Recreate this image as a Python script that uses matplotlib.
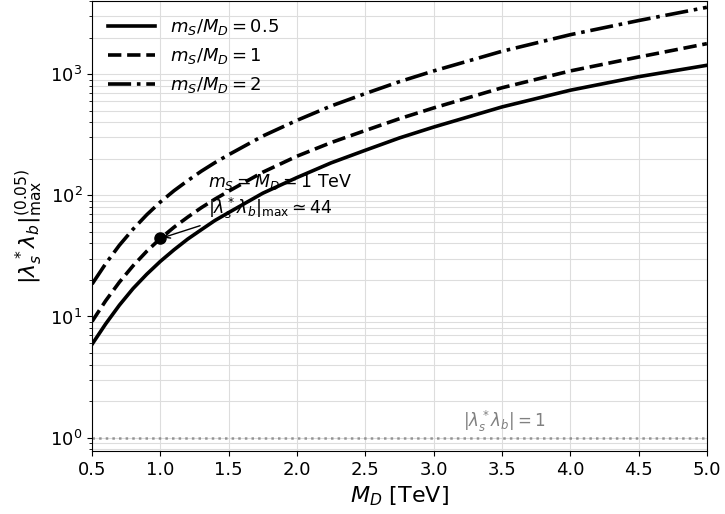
import numpy as np
import matplotlib
matplotlib.use("Agg")
import matplotlib.pyplot as plt

# values (M_D in TeV)
MD = [0.5, 0.6, 0.7, 0.8, 0.9, 1.0, 1.1, 1.2, 1.3, 1.4, 1.5, 1.75,
      2.0, 2.25, 2.5, 2.75, 3.0, 3.5, 4.0, 4.5, 5.0]
lam_05 = [5.9, 8.7, 12.4, 17.0, 22.3, 28.5, 35.5, 43.5, 52, 62, 72, 104,
          140, 185, 235, 297, 365, 535, 735, 950, 1180]
lam_1 = [9.1, 13.5, 19.2, 26.2, 34.5, 44.0, 54.5, 66, 79, 93, 108, 155,
         210, 272, 342, 428, 525, 770, 1060, 1380, 1780]
lam_2 = [18.5, 27.3, 38.7, 52.5, 69, 88, 109, 132, 158, 186, 216, 308,
         415, 545, 690, 865, 1060, 1540, 2110, 2760, 3550]
ratios = ["0.5", "1", "2"]

point_MD = 1.0
point_lam = 44

fig = plt.figure(figsize=(7.25, 5.14), dpi=100)
ax = fig.add_axes([0.127, 0.123, 0.848, 0.875])

ax.plot(MD, lam_05, color="k", lw=2.6, ls="-", label=r"$m_S/M_D = %s$" % ratios[0])
ax.plot(MD, lam_1, color="k", lw=2.6, ls="--", label=r"$m_S/M_D = %s$" % ratios[1])
ax.plot(MD, lam_2, color="k", lw=2.6, ls="-.", label=r"$m_S/M_D = %s$" % ratios[2])

ax.axhline(1.0, color="gray", ls=":", lw=1.8, alpha=0.8)
ax.text(3.52, 1.07, r"$|\lambda_s^*\lambda_b| = 1$", color="gray",
        ha="center", va="bottom", fontsize=12)

ax.plot([point_MD], [point_lam], "o", color="k", ms=8)
ax.annotate("", xy=(point_MD, point_lam), xytext=(1.31, 57),
            arrowprops=dict(arrowstyle="->", color="k", lw=1))
ax.text(1.35, 97, "$m_S = M_D = 1$ TeV\n" + r"$|\lambda_s^*\lambda_b|_{\max} \simeq %d$" % point_lam,
        ha="left", va="center", fontsize=12.5)

ax.set_yscale("log")
ax.set_xlim(0.5, 5.0)
ax.set_ylim(0.78, 4000)
ax.set_xticks(np.arange(0.5, 5.01, 0.5))
ax.set_xlabel(r"$M_D$ [TeV]", fontsize=16)
ax.set_ylabel(r"$|\lambda_s^*\lambda_b|^{(0.05)}_{\max}$", fontsize=16)
ax.tick_params(labelsize=13)
ax.grid(True, which="both", color="#dddddd", lw=0.8)
ax.set_axisbelow(True)

ax.legend(loc="upper left", frameon=False, fontsize=13, handlelength=2.6)

fig.savefig("out.png", dpi=100)
